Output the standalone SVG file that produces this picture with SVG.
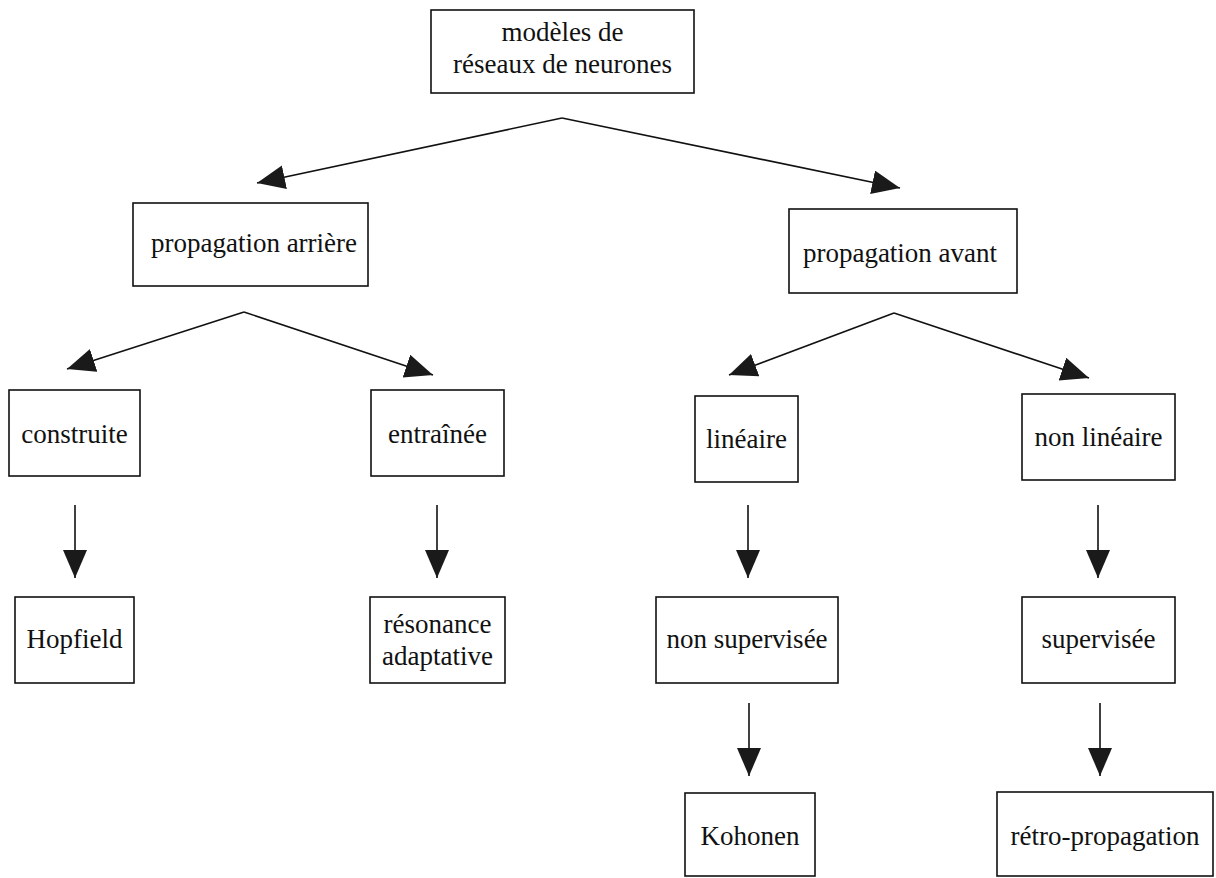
<svg xmlns="http://www.w3.org/2000/svg" width="1216" height="878" viewBox="0 0 1216 878">
<style>
.box{fill:#fff;stroke:#111;stroke-width:1.6}
.t{font-family:"Liberation Serif","Times New Roman",serif;font-size:27px;fill:#111;text-anchor:middle}
.c{stroke:#111;stroke-width:1.6;fill:none;marker-end:url(#ah)}
</style>
<defs>
<marker id="ah" markerUnits="userSpaceOnUse" markerWidth="30" markerHeight="26" refX="28" refY="12" orient="auto">
<path d="M0,0 L28,12 L0,24 z" fill="#1a1a1a"/>
</marker>
</defs>
<rect width="1216" height="878" fill="#fff"/>
<g id="connectors">
<path class="c" d="M562,118 L257,183"/>
<path class="c" d="M562,118 L900,188"/>
<path class="c" d="M244,312 L67,369"/>
<path class="c" d="M244,312 L433,375"/>
<path class="c" d="M894,313 L729,375"/>
<path class="c" d="M894,313 L1089,378"/>
<path class="c" d="M75,505 L75,578"/>
<path class="c" d="M437,505 L437,578"/>
<path class="c" d="M748,505 L748,578"/>
<path class="c" d="M1098,505 L1098,578"/>
<path class="c" d="M749,703 L749,776"/>
<path class="c" d="M1100,703 L1100,776"/>
</g>
<g id="n-root"><rect class="box" x="431" y="10" width="263" height="83"/><text class="t" x="562.5" y="41">modèles de</text><text class="t" x="562.5" y="73">réseaux de neurones</text></g>
<g id="n-arriere"><rect class="box" x="133" y="203" width="235" height="83"/><text class="t" x="254" y="252">propagation arrière</text></g>
<g id="n-avant"><rect class="box" x="789" y="209" width="228" height="84"/><text class="t" x="900" y="262">propagation avant</text></g>
<g id="n-construite"><rect class="box" x="9" y="390" width="131" height="86"/><text class="t" x="74.5" y="443">construite</text></g>
<g id="n-entrainee"><rect class="box" x="371" y="390" width="133" height="86"/><text class="t" x="437.5" y="443">entraînée</text></g>
<g id="n-lineaire"><rect class="box" x="695" y="396" width="103" height="86"/><text class="t" x="746.5" y="448">linéaire</text></g>
<g id="n-nonlineaire"><rect class="box" x="1022" y="394" width="153" height="86"/><text class="t" x="1098.5" y="446">non linéaire</text></g>
<g id="n-hopfield"><rect class="box" x="15" y="597" width="119" height="86"/><text class="t" x="74.5" y="648">Hopfield</text></g>
<g id="n-resonance"><rect class="box" x="370" y="597" width="135" height="86"/><text class="t" x="437.5" y="633">résonance</text><text class="t" x="437.5" y="665">adaptative</text></g>
<g id="n-nonsup"><rect class="box" x="656" y="597" width="182" height="86"/><text class="t" x="747" y="648">non supervisée</text></g>
<g id="n-sup"><rect class="box" x="1022" y="597" width="153" height="86"/><text class="t" x="1098.5" y="648">supervisée</text></g>
<g id="n-kohonen"><rect class="box" x="685" y="793" width="130" height="83"/><text class="t" x="750" y="845">Kohonen</text></g>
<g id="n-retro"><rect class="box" x="997" y="792" width="216" height="84"/><text class="t" x="1105" y="845">rétro-propagation</text></g>
</svg>
